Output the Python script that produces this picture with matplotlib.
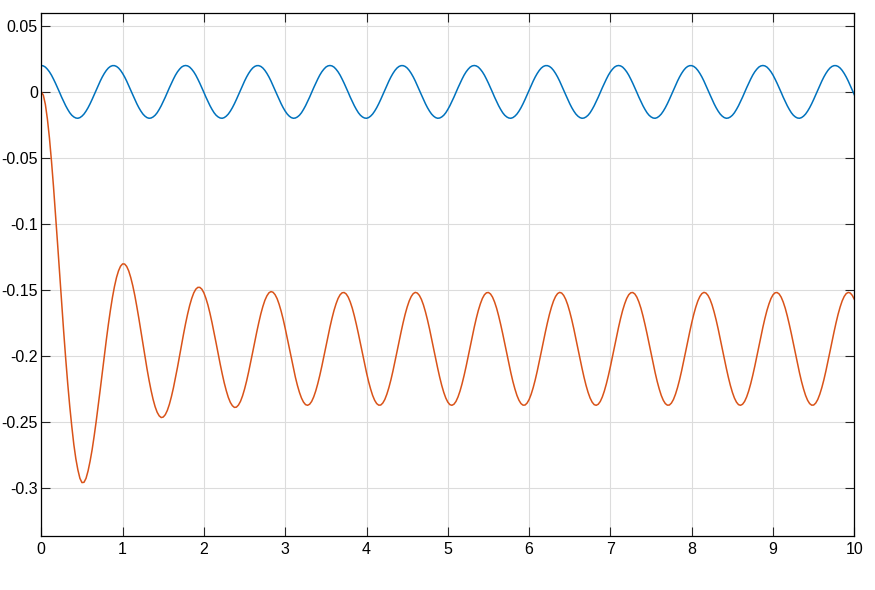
import numpy as np
import matplotlib
matplotlib.use("Agg")
import matplotlib.pyplot as plt

# senal azul (muestreada cada 0.025 s, de 0 a 10 s) -----------------------------
azul = [
    0.0200, 0.0197, 0.0188, 0.0172, 0.0152, 0.0127, 0.0097, 0.0065, 0.0031, -0.0004,
    -0.0040, -0.0073, -0.0105, -0.0133, -0.0158, -0.0177, -0.0190, -0.0198, -0.0200, -0.0195,
    -0.0184, -0.0168, -0.0146, -0.0120, -0.0090, -0.0057, -0.0022, 0.0013, 0.0048, 0.0082,
    0.0113, 0.0140, 0.0163, 0.0181, 0.0193, 0.0199, 0.0199, 0.0193, 0.0181, 0.0163,
    0.0140, 0.0113, 0.0082, 0.0048, 0.0013, -0.0022, -0.0057, -0.0090, -0.0120, -0.0146,
    -0.0168, -0.0184, -0.0195, -0.0200, -0.0198, -0.0190, -0.0177, -0.0158, -0.0133, -0.0105,
    -0.0073, -0.0040, -0.0004, 0.0031, 0.0065, 0.0097, 0.0127, 0.0152, 0.0172, 0.0188,
    0.0197, 0.0200, 0.0197, 0.0188, 0.0172, 0.0152, 0.0127, 0.0097, 0.0065, 0.0031,
    -0.0004, -0.0040, -0.0073, -0.0105, -0.0133, -0.0158, -0.0177, -0.0190, -0.0198, -0.0200,
    -0.0195, -0.0184, -0.0168, -0.0146, -0.0120, -0.0090, -0.0057, -0.0022, 0.0013, 0.0048,
    0.0082, 0.0113, 0.0140, 0.0163, 0.0181, 0.0193, 0.0199, 0.0199, 0.0193, 0.0181,
    0.0163, 0.0140, 0.0113, 0.0082, 0.0048, 0.0013, -0.0022, -0.0057, -0.0090, -0.0120,
    -0.0146, -0.0168, -0.0184, -0.0195, -0.0200, -0.0198, -0.0190, -0.0177, -0.0158, -0.0133,
    -0.0105, -0.0073, -0.0040, -0.0004, 0.0031, 0.0065, 0.0097, 0.0127, 0.0152, 0.0172,
    0.0188, 0.0197,
    0.0200, 0.0197, 0.0188, 0.0172, 0.0152, 0.0127, 0.0097, 0.0065, 0.0031, -0.0004,
    -0.0040, -0.0073, -0.0105, -0.0133, -0.0158, -0.0177, -0.0190, -0.0198, -0.0200, -0.0195,
    -0.0184, -0.0168, -0.0146, -0.0120, -0.0090, -0.0057, -0.0022, 0.0013, 0.0048, 0.0082,
    0.0113, 0.0140, 0.0163, 0.0181, 0.0193, 0.0199, 0.0199, 0.0193, 0.0181, 0.0163,
    0.0140, 0.0113, 0.0082, 0.0048, 0.0013, -0.0022, -0.0057, -0.0090, -0.0120, -0.0146,
    -0.0168, -0.0184, -0.0195, -0.0200, -0.0198, -0.0190, -0.0177, -0.0158, -0.0133, -0.0105,
    -0.0073, -0.0040, -0.0004, 0.0031, 0.0065, 0.0097, 0.0127, 0.0152, 0.0172, 0.0188,
    0.0197, 0.0200, 0.0197, 0.0188, 0.0172, 0.0152, 0.0127, 0.0097, 0.0065, 0.0031,
    -0.0004, -0.0040, -0.0073, -0.0105, -0.0133, -0.0158, -0.0177, -0.0190, -0.0198, -0.0200,
    -0.0195, -0.0184, -0.0168, -0.0146, -0.0120, -0.0090, -0.0057, -0.0022, 0.0013, 0.0048,
    0.0082, 0.0113, 0.0140, 0.0163, 0.0181, 0.0193, 0.0199, 0.0199, 0.0193, 0.0181,
    0.0163, 0.0140, 0.0113, 0.0082, 0.0048, 0.0013, -0.0022, -0.0057, -0.0090, -0.0120,
    -0.0146, -0.0168, -0.0184, -0.0195, -0.0200, -0.0198, -0.0190, -0.0177, -0.0158, -0.0133,
    -0.0105, -0.0073, -0.0040, -0.0004, 0.0031, 0.0065, 0.0097, 0.0127, 0.0152, 0.0172,
    0.0188, 0.0197,
    0.0200, 0.0197, 0.0188, 0.0172, 0.0152, 0.0127, 0.0097, 0.0065, 0.0031, -0.0004,
    -0.0040, -0.0073, -0.0105, -0.0133, -0.0158, -0.0177, -0.0190, -0.0198, -0.0200, -0.0195,
    -0.0184, -0.0168, -0.0146, -0.0120, -0.0090, -0.0057, -0.0022, 0.0013, 0.0048, 0.0082,
    0.0113, 0.0140, 0.0163, 0.0181, 0.0193, 0.0199, 0.0199, 0.0193, 0.0181, 0.0163,
    0.0140, 0.0113, 0.0082, 0.0048, 0.0013, -0.0022, -0.0057, -0.0090, -0.0120, -0.0146,
    -0.0168, -0.0184, -0.0195, -0.0200, -0.0198, -0.0190, -0.0177, -0.0158, -0.0133, -0.0105,
    -0.0073, -0.0040, -0.0004, 0.0031, 0.0065, 0.0097, 0.0127, 0.0152, 0.0172, 0.0188,
    0.0197, 0.0200, 0.0197, 0.0188, 0.0172, 0.0152, 0.0127, 0.0097, 0.0065, 0.0031,
    -0.0004, -0.0040, -0.0073, -0.0105, -0.0133, -0.0158, -0.0177, -0.0190, -0.0198, -0.0200,
    -0.0195, -0.0184, -0.0168, -0.0146, -0.0120, -0.0090, -0.0057, -0.0022, 0.0013, 0.0048,
    0.0082, 0.0113, 0.0140, 0.0163, 0.0181, 0.0193, 0.0199, 0.0199, 0.0193, 0.0181,
    0.0163, 0.0140, 0.0113, 0.0082, 0.0048, 0.0013, -0.0022,
]

# senal naranja (transitorio + regimen), mismo muestreo ------------------------
naranja = [
    0.0000, -0.0025, -0.0095, -0.0206, -0.0349, -0.0523, -0.0718, -0.0929, -0.1150, -0.1374,
    -0.1598, -0.1815, -0.2021, -0.2212, -0.2384, -0.2536, -0.2673, -0.2782, -0.2866, -0.2930,
    -0.2962, -0.2960, -0.2930, -0.2874, -0.2800, -0.2713, -0.2610, -0.2498, -0.2379, -0.2255,
    -0.2128, -0.2002, -0.1879, -0.1762, -0.1655, -0.1558, -0.1475, -0.1407, -0.1356, -0.1321,
    -0.1304, -0.1305, -0.1323, -0.1357, -0.1407, -0.1469, -0.1543, -0.1628, -0.1718, -0.1813,
    -0.1910, -0.2007, -0.2099, -0.2185, -0.2263, -0.2331, -0.2387, -0.2429, -0.2456, -0.2469,
    -0.2465, -0.2447, -0.2415, -0.2369, -0.2311, -0.2244, -0.2168, -0.2088, -0.2003, -0.1917,
    -0.1834, -0.1755, -0.1683, -0.1619, -0.1566, -0.1524, -0.1496, -0.1482, -0.1482, -0.1496,
    -0.1524, -0.1566, -0.1617, -0.1680, -0.1750, -0.1825, -0.1904, -0.1984, -0.2063, -0.2137,
    -0.2206, -0.2265, -0.2316, -0.2354, -0.2379, -0.2392, -0.2390, -0.2374, -0.2346, -0.2305,
    -0.2253, -0.2192, -0.2123, -0.2050, -0.1973, -0.1896, -0.1820, -0.1749, -0.1683, -0.1627,
    -0.1580, -0.1546, -0.1523, -0.1514, -0.1519, -0.1537, -0.1567, -0.1610, -0.1663, -0.1724,
    -0.1793, -0.1867, -0.1944, -0.2019, -0.2093, -0.2163, -0.2225, -0.2278, -0.2321, -0.2352,
    -0.2371, -0.2376, -0.2368, -0.2347, -0.2313, -0.2268, -0.2213, -0.2150, -0.2081, -0.2007,
    -0.1931, -0.1856,
    -0.1784, -0.1717, -0.1657, -0.1607, -0.1566, -0.1538, -0.1523, -0.1521, -0.1532, -0.1556,
    -0.1593, -0.1640, -0.1698, -0.1763, -0.1833, -0.1908, -0.1983, -0.2058, -0.2129, -0.2195,
    -0.2252, -0.2301, -0.2338, -0.2363, -0.2375, -0.2374, -0.2359, -0.2332, -0.2292, -0.2242,
    -0.2183, -0.2116, -0.2044, -0.1969, -0.1894, -0.1820, -0.1750, -0.1686, -0.1631, -0.1585,
    -0.1551, -0.1529, -0.1520, -0.1525, -0.1543, -0.1573, -0.1615, -0.1668, -0.1729, -0.1797,
    -0.1870, -0.1946, -0.2021, -0.2094, -0.2163, -0.2225, -0.2278, -0.2321, -0.2352, -0.2371,
    -0.2376, -0.2368, -0.2347, -0.2313, -0.2268, -0.2213, -0.2150, -0.2081, -0.2007, -0.1931,
    -0.1856, -0.1784, -0.1717, -0.1657, -0.1607, -0.1566, -0.1538, -0.1523, -0.1521, -0.1532,
    -0.1556, -0.1593, -0.1640, -0.1698, -0.1763, -0.1833, -0.1908, -0.1983, -0.2058, -0.2129,
    -0.2195, -0.2252, -0.2301, -0.2338, -0.2363, -0.2375, -0.2374, -0.2359, -0.2332, -0.2292,
    -0.2242, -0.2183, -0.2116, -0.2044, -0.1969, -0.1894, -0.1820, -0.1750, -0.1686, -0.1631,
    -0.1585, -0.1551, -0.1529, -0.1520, -0.1525, -0.1543, -0.1573, -0.1615, -0.1668, -0.1729,
    -0.1797, -0.1870, -0.1946, -0.2021, -0.2094, -0.2163, -0.2225, -0.2278, -0.2321, -0.2352,
    -0.2371, -0.2376, -0.2368, -0.2347, -0.2313, -0.2268, -0.2213, -0.2150, -0.2081, -0.2007,
    -0.1931, -0.1856,
    -0.1784, -0.1717, -0.1657, -0.1607, -0.1566, -0.1538, -0.1523, -0.1521, -0.1532, -0.1556,
    -0.1593, -0.1640, -0.1698, -0.1763, -0.1833, -0.1908, -0.1983, -0.2058, -0.2129, -0.2195,
    -0.2252, -0.2301, -0.2338, -0.2363, -0.2375, -0.2374, -0.2359, -0.2332, -0.2292, -0.2242,
    -0.2183, -0.2116, -0.2044, -0.1969, -0.1894, -0.1820, -0.1750, -0.1686, -0.1631, -0.1585,
    -0.1551, -0.1529, -0.1520, -0.1525, -0.1543, -0.1573, -0.1615, -0.1668, -0.1729, -0.1797,
    -0.1870, -0.1946, -0.2021, -0.2094, -0.2163, -0.2225, -0.2278, -0.2321, -0.2352, -0.2371,
    -0.2376, -0.2368, -0.2347, -0.2313, -0.2268, -0.2213, -0.2150, -0.2081, -0.2007, -0.1931,
    -0.1856, -0.1784, -0.1717, -0.1657, -0.1607, -0.1566, -0.1538, -0.1523, -0.1521, -0.1532,
    -0.1556, -0.1593, -0.1640, -0.1698, -0.1763, -0.1833, -0.1908, -0.1983, -0.2058, -0.2129,
    -0.2195, -0.2252, -0.2301, -0.2338, -0.2363, -0.2375, -0.2374, -0.2359, -0.2332, -0.2292,
    -0.2242, -0.2183, -0.2116, -0.2044, -0.1969, -0.1894, -0.1820, -0.1750, -0.1686, -0.1631,
    -0.1585, -0.1551, -0.1529, -0.1520, -0.1525, -0.1543, -0.1573,
]

tiempo = np.linspace(0, 10, len(azul))  # s
assert len(azul) == len(naranja)

ticks_x = [0, 1, 2, 3, 4, 5, 6, 7, 8, 9, 10]
ticks_y = [0.05, 0, -0.05, -0.1, -0.15, -0.2, -0.25, -0.3]
etiquetas_y = ["0.05", "0", "-0.05", "-0.1", "-0.15", "-0.2", "-0.25", "-0.3"]

plt.rcParams["font.family"] = ["Liberation Sans", "DejaVu Sans"]

fig = plt.figure(figsize=(8.75, 5.9), dpi=100)
ax = fig.add_subplot(1, 1, 1)
fig.subplots_adjust(left=0.0472, right=0.9764, bottom=0.0915, top=0.9775)

ax.plot(tiempo, azul, color="#0072BD", linewidth=1.1)
ax.plot(tiempo, naranja, color="#D95319", linewidth=1.1)

ax.set_xlim(0, 10)
ax.set_ylim(-0.3367, 0.0596)
ax.set_xticks(ticks_x)
ax.set_xticklabels([str(v) for v in ticks_x])
ax.set_yticks(ticks_y)
ax.set_yticklabels(etiquetas_y)

# cuadricula y ejes estilo matlab
ax.grid(True, color="#dcdcdc", linewidth=0.8)
ax.set_axisbelow(True)
ax.tick_params(direction="in", top=True, right=True, length=6.5, width=0.8,
               labelsize=11.5, colors="#262626", labelcolor="#000000")
ax.tick_params(axis="x", pad=4.5)
ax.tick_params(axis="y", pad=2.5)
for lado in ax.spines.values():
    lado.set_linewidth(0.9)
    lado.set_color("#000000")

fig.savefig("out.png", dpi=100)
